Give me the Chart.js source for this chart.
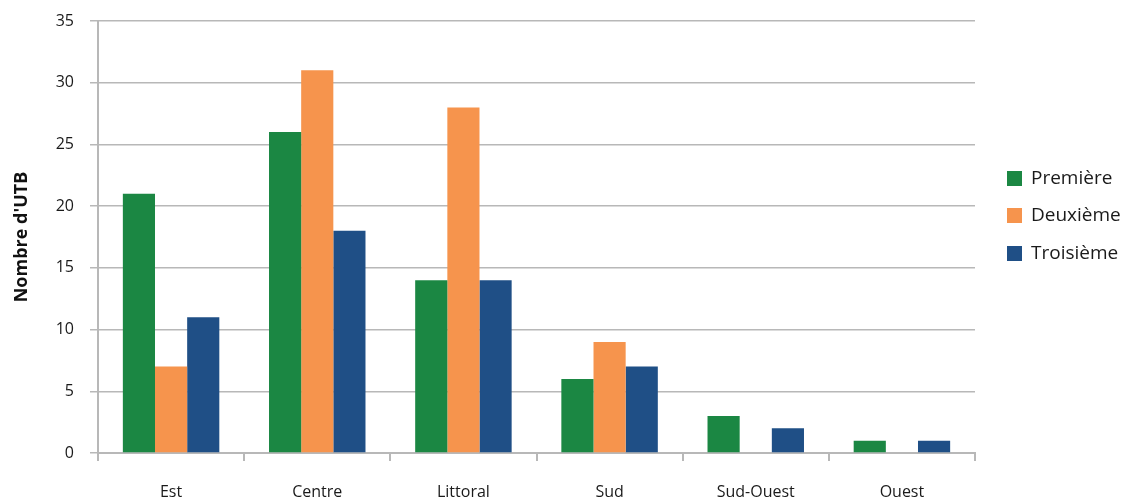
<!DOCTYPE html>
<html>
<head>
<meta charset="utf-8">
<script src="https://cdn.jsdelivr.net/npm/chart.js@4/dist/chart.umd.min.js"></script>
<style>
  html, body { margin: 0; padding: 0; background: #fff; }
  #wrap { width: 1130px; height: 501px; }
</style>
</head>
<body>
<div id="wrap"><canvas id="utbChart"></canvas></div>
<script>
// ===== DATA =====
const regions = ['Est', 'Centre', 'Littoral', 'Sud', 'Sud-Ouest', 'Ouest'];
const premiere = [21, 26, 14, 6, 3, 1];
const deuxieme = [7, 31, 28, 9, 0, 0];
const troisieme = [11, 18, 14, 7, 2, 1];
const yTicks = [0, 5, 10, 15, 20, 25, 30, 35];

const FONT = '"Open Sans", "Noto Sans", sans-serif';
const GRID = '#b8b8b8';

// Legend drawn to the right of the plot
const sideLegend = {
    id: 'sideLegend',
    afterDraw(chart) {
        const ctx = chart.ctx;
        const rows = [178, 215, 253];
        ctx.save();
        ctx.font = '19px ' + FONT;
        ctx.textBaseline = 'middle';
        chart.data.datasets.forEach((ds, i) => {
            ctx.fillStyle = ds.backgroundColor;
            ctx.fillRect(1007, rows[i] - 7, 15, 15);
            ctx.fillStyle = '#1a1a1a';
            ctx.fillText(ds.label, 1031, rows[i] + 1);
        });
        ctx.restore();
    }
};

new Chart(document.getElementById('utbChart'), {
    type: 'bar',
    data: {
        labels: regions,
        datasets: [
            { label: 'Première', data: premiere, backgroundColor: '#1b8743' },
            { label: 'Deuxième', data: deuxieme, backgroundColor: '#f6944d' },
            { label: 'Troisième', data: troisieme, backgroundColor: '#1f4f86' }
        ]
    },
    options: {
        responsive: true,
        maintainAspectRatio: false,
        animation: false,
        layout: { padding: { top: 21, right: 155, left: 0, bottom: 0 } },
        datasets: { bar: { categoryPercentage: 0.66, barPercentage: 1.0 } },
        plugins: {
            legend: { display: false },
            tooltip: { enabled: false }
        },
        scales: {
            x: {
                afterFit: (scale) => {
                    scale.height = 48;
                    scale.paddingLeft = 0;
                    scale.paddingRight = 0;
                },
                grid: {
                    drawOnChartArea: false,
                    offset: true,
                    color: GRID,
                    lineWidth: 2,
                    tickLength: 8
                },
                border: { color: GRID, width: 2 },
                ticks: {
                    color: '#1a1a1a',
                    padding: 22,
                    font: { family: FONT, size: 16 }
                }
            },
            y: {
                min: 0,
                max: 35,
                afterFit: (scale) => {
                    scale.width = 98;
                    scale.paddingTop = 0;
                    scale.paddingBottom = 0;
                },
                afterBuildTicks: (scale) => {
                    scale.ticks = yTicks.map(v => ({ value: v }));
                },
                grid: { color: GRID, lineWidth: 1.5, tickLength: 8 },
                border: { color: GRID, width: 2 },
                ticks: {
                    color: '#1a1a1a',
                    padding: 16,
                    font: { family: FONT, size: 16 }
                },
                title: {
                    display: true,
                    text: "Nombre d'UTB",
                    color: '#111',
                    padding: { top: 11, bottom: 4 },
                    font: { family: FONT, size: 18, weight: 'bold' }
                }
            }
        }
    },
    plugins: [sideLegend]
});
</script>
</body>
</html>
